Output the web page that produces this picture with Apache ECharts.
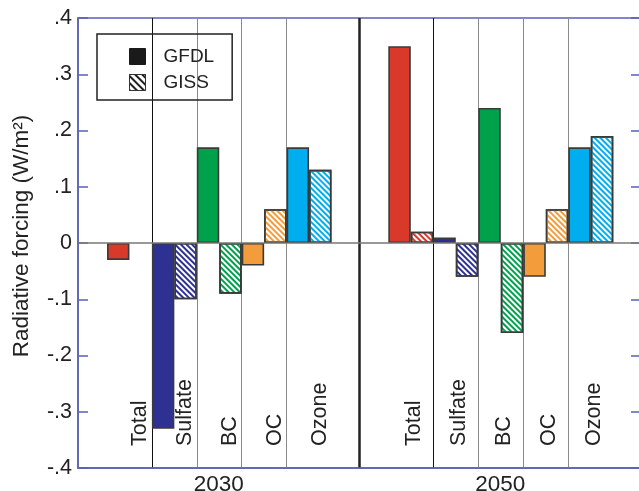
<!DOCTYPE html>
<html>
<head>
<meta charset="utf-8">
<script src="https://cdn.jsdelivr.net/npm/echarts@6/dist/echarts.min.js"></script>
<style>
html,body{margin:0;padding:0;background:#fff;}
#chart{width:639px;height:491px;}
</style>
</head>
<body>
<div id="chart"></div>
<script>
// ---- data ----
const years = ['2030', '2050'];
const categories = ['Total', 'Sulfate', 'BC', 'OC', 'Ozone'];
const gfdl2030 = [-0.03, -0.33, 0.17, -0.04, 0.17];
const giss2030 = [null, -0.10, -0.09, 0.06, 0.13];
const gfdl2050 = [0.35, 0.01, 0.24, -0.06, 0.17];
const giss2050 = [0.02, -0.06, -0.16, 0.06, 0.19];

// ---- styles ----
const catColors = ['#d8392b', '#2e3192', '#00a14b', '#f39c3b', '#00aeef'];
const FONT = "'Liberation Sans', Arial, sans-serif";
const AXIS_BLUE = '#5b60b2';
const BORDER = '#3a3a3a';

function hatch(color, w, gap) {
  return {
    symbol: 'rect', symbolSize: 1,
    dashArrayX: [1, 0], dashArrayY: [w, gap],
    rotation: Math.PI / 4, color: color
  };
}
function solidData(vals) {
  return vals.map((v, i) => ({
    value: v,
    itemStyle: { color: catColors[i], borderColor: BORDER, borderWidth: 1.6 }
  }));
}
function hatchData(vals) {
  return vals.map((v, i) => ({
    value: v,
    itemStyle: { color: '#ffffff', decal: hatch(catColors[i], 1.1, 1.9), borderColor: BORDER, borderWidth: 1.6 }
  }));
}
function fmtTick(v) {
  if (Math.abs(v) < 1e-9) return '0';
  return v.toFixed(1).replace('0.', '.');
}

const chart = echarts.init(document.getElementById('chart'), null, { renderer: 'canvas' });

const barGridX = (gi, lh) => ({
  type: 'category', gridIndex: gi, data: categories,
  axisLine: { show: false, onZero: false }, axisTick: { show: false },
  axisLabel: {
    inside: true, rotate: 90, margin: 22, interval: 0,
    fontFamily: FONT, fontSize: 21.5, color: '#222',
    verticalAlign: 'top', lineHeight: lh
  },
  splitLine: {
    show: true, showMinLine: false, showMaxLine: false,
    lineStyle: { color: ['#111', '#8a8a8a', '#8a8a8a', '#8a8a8a'], width: 1 }
  }
});
const hiddenY = (gi) => ({
  type: 'value', gridIndex: gi, min: -0.4, max: 0.4, show: false
});

const option = {
  animation: false,
  backgroundColor: '#fff',
  textStyle: { fontFamily: FONT },
  legend: {
    left: 97, top: 34, orient: 'vertical',
    padding: [13, 18, 8, 32],
    itemWidth: 16, itemHeight: 16, itemGap: 7, icon: 'rect',
    borderColor: '#222', borderWidth: 1.5,
    textStyle: { fontFamily: FONT, fontSize: 19, color: '#222', padding: [0, 0, 0, 13], lineHeight: 16 },
    data: [
      { name: 'GFDL', icon: 'rect', itemStyle: { color: '#1a1a1a', borderColor: '#1a1a1a', borderWidth: 1 } },
      { name: 'GISS', icon: 'rect', itemStyle: { color: '#ffffff', decal: hatch('#222', 2, 2.2), borderColor: '#333', borderWidth: 1 } }
    ]
  },
  grid: [
    { left: 78, top: 18, width: 563, height: 450, show: true, borderColor: AXIS_BLUE, borderWidth: 1.5, backgroundColor: 'transparent', outerBoundsMode: 'none', containLabel: false },
    { left: 107, top: 18, width: 224.5, height: 450, outerBoundsMode: 'none', containLabel: false },
    { left: 388.3, top: 18, width: 225, height: 450, outerBoundsMode: 'none', containLabel: false }
  ],
  xAxis: [
    {
      type: 'category', gridIndex: 0, data: years,
      axisLine: { onZero: false, lineStyle: { color: AXIS_BLUE, width: 1.5 } },
      axisTick: { show: false },
      axisLabel: { fontFamily: FONT, fontSize: 22.5, color: '#222', margin: 5 },
      splitLine: { show: true, showMinLine: false, showMaxLine: false, lineStyle: { color: '#222', width: 2.5 } }
    },
    barGridX(1, 22),
    barGridX(2, 6)
  ],
  yAxis: [
    {
      type: 'value', gridIndex: 0, min: -0.4, max: 0.4, interval: 0.1, position: 'left',
      name: 'Radiative forcing (W/m²)', nameLocation: 'middle', nameGap: 45,
      nameTextStyle: { fontFamily: FONT, fontSize: 22.5, color: '#222', padding: [0, 0, 0, 14] },
      axisLine: { show: true, lineStyle: { color: AXIS_BLUE, width: 1.5 } },
      axisTick: { show: true, inside: true, length: 10, lineStyle: { color: AXIS_BLUE, width: 1.5 } },
      axisLabel: { fontFamily: FONT, fontSize: 21.5, color: '#222', margin: 6, formatter: fmtTick },
      splitLine: { show: false }
    },
    {
      type: 'value', gridIndex: 0, min: -0.4, max: 0.4, interval: 0.1, position: 'right',
      axisLine: { show: true, lineStyle: { color: AXIS_BLUE, width: 1.5 } },
      axisTick: { show: true, inside: true, length: 10, lineStyle: { color: AXIS_BLUE, width: 1.5 } },
      axisLabel: { show: false },
      splitLine: { show: false }
    },
    hiddenY(1),
    hiddenY(2)
  ],
  series: [
    {
      name: 'zero', type: 'line', xAxisIndex: 0, yAxisIndex: 0, data: [], silent: true, z: 1,
      markLine: {
        silent: true, symbol: 'none', label: { show: false },
        lineStyle: { color: '#777', width: 1.5, type: 'solid' },
        data: [{ yAxis: 0 }]
      }
    },
    { name: 'GFDL', type: 'bar', xAxisIndex: 1, yAxisIndex: 2, data: solidData(gfdl2030), barGap: '0%', barCategoryGap: '0%', z: 3,
      itemStyle: { color: '#1a1a1a' } },
    { name: 'GISS', type: 'bar', xAxisIndex: 1, yAxisIndex: 2, data: hatchData(giss2030), barGap: '0%', barCategoryGap: '0%', z: 3,
      itemStyle: { color: '#ffffff' } },
    { name: 'GFDL', type: 'bar', xAxisIndex: 2, yAxisIndex: 3, data: solidData(gfdl2050), barGap: '0%', barCategoryGap: '0%', z: 3,
      itemStyle: { color: '#1a1a1a' } },
    { name: 'GISS', type: 'bar', xAxisIndex: 2, yAxisIndex: 3, data: hatchData(giss2050), barGap: '0%', barCategoryGap: '0%', z: 3,
      itemStyle: { color: '#ffffff' } }
  ]
};
chart.setOption(option);
</script>
</body>
</html>
